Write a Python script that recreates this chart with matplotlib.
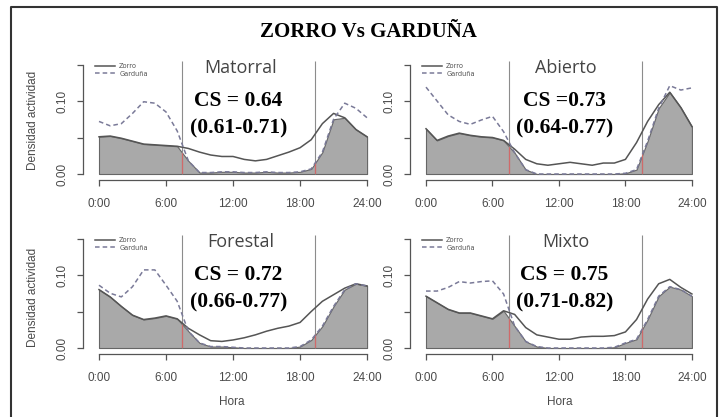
import matplotlib.pyplot as plt
import numpy as np

# datos (densidad de actividad por hora)
hours = list(range(25))
hour_ticks = [0, 6, 12, 18, 24]
hour_labels = ['0:00', '6:00', '12:00', '18:00', '24:00']

zorro_mat = [0.051, 0.052, 0.049, 0.045, 0.041, 0.040, 0.039, 0.038, 0.035, 0.030, 0.026, 0.024, 0.024,
             0.020, 0.018, 0.020, 0.025, 0.030, 0.036, 0.047, 0.069, 0.083, 0.077, 0.061, 0.051]
gard_mat = [0.072, 0.066, 0.069, 0.083, 0.099, 0.097, 0.085, 0.059, 0.018, 0.002, 0.002, 0.003, 0.003,
            0.002, 0.002, 0.003, 0.002, 0.002, 0.003, 0.007, 0.030, 0.075, 0.097, 0.090, 0.077]

zorro_abi = [0.062, 0.046, 0.052, 0.056, 0.053, 0.051, 0.050, 0.046, 0.034, 0.020, 0.014, 0.012, 0.014,
             0.016, 0.014, 0.012, 0.015, 0.015, 0.020, 0.043, 0.072, 0.095, 0.112, 0.091, 0.065]
gard_abi = [0.119, 0.100, 0.081, 0.072, 0.068, 0.074, 0.079, 0.058, 0.029, 0.006, 0.0, 0.0, 0.0,
            0.0, 0.0, 0.0, 0.0, 0.0, 0.001, 0.006, 0.045, 0.090, 0.121, 0.115, 0.118]

zorro_for = [0.080, 0.070, 0.057, 0.045, 0.039, 0.041, 0.044, 0.040, 0.027, 0.018, 0.010, 0.009, 0.011,
             0.014, 0.018, 0.023, 0.027, 0.030, 0.035, 0.050, 0.064, 0.073, 0.082, 0.088, 0.085]
gard_for = [0.086, 0.075, 0.070, 0.084, 0.107, 0.107, 0.086, 0.064, 0.023, 0.007, 0.002, 0.002, 0.001,
            0.0, 0.0, 0.0, 0.0, 0.0, 0.002, 0.011, 0.030, 0.057, 0.080, 0.088, 0.085]

zorro_mix = [0.071, 0.062, 0.053, 0.048, 0.048, 0.044, 0.040, 0.051, 0.046, 0.028, 0.018, 0.015, 0.012,
             0.012, 0.015, 0.016, 0.016, 0.017, 0.022, 0.039, 0.067, 0.088, 0.094, 0.083, 0.074]
gard_mix = [0.078, 0.078, 0.083, 0.091, 0.089, 0.091, 0.092, 0.074, 0.030, 0.009, 0.002, 0.0, 0.0,
            0.0, 0.0, 0.0, 0.0, 0.001, 0.007, 0.012, 0.039, 0.071, 0.084, 0.080, 0.071]

habitats = ['Matorral', 'Abierto', 'Forestal', 'Mixto']
cs_text = ['CS = 0.64', 'CS =0.73', 'CS = 0.72', 'CS = 0.75']
ci_text = ['(0.61-0.71)', '(0.64-0.77)', '(0.66-0.77)', '(0.71-0.82)']
zorro = [zorro_mat, zorro_abi, zorro_for, zorro_mix]
garduna = [gard_mat, gard_abi, gard_for, gard_mix]
amanecer = [7.45, 7.5, 7.45, 7.5]
atardecer = [19.3, 19.45, 19.3, 19.5]

W, H = 723, 417
fig = plt.figure(figsize=(W / 100, H / 100), dpi=100)

def fx(x):
    return x / W

def fy(y):
    return 1 - y / H

# posiciones en pixeles: (x de 0h, px por hora, y de 0.00)
pos = [(99, 11.17, 174), (426, 11.08, 174), (99, 11.17, 348), (426, 11.08, 348)]
xmin, xmax = -1.4, 24.6
ymin, ymax = -0.008, 0.155
py_unit = 730
gris = '#4a4a4a'

for i in range(4):
    x0, ph, y0 = pos[i]
    left = x0 + xmin * ph
    width = (xmax - xmin) * ph
    bottom = y0 - ymin * py_unit
    height = (ymax - ymin) * py_unit
    ax = fig.add_axes([fx(left), fy(bottom), width / W, height / H])
    z = np.array(zorro[i])
    g = np.array(garduna[i])
    over = np.minimum(z, g)
    poly = ax.fill_between(hours, 0, over, color='#a9a9a9', edgecolor='#666666', linewidth=0.8, zorder=1)
    ax.vlines([amanecer[i], atardecer[i]], 0, ymax, color='#8c8c8c', linewidth=0.8, zorder=2)
    red = ax.vlines([amanecer[i], atardecer[i]], 0, ymax, color='#d06a6a', linewidth=0.9, zorder=2.5)
    red.set_clip_path(poly.get_paths()[0], ax.transData)
    ax.plot(hours, z, color='#555555', linewidth=1.1, label='Zorro', zorder=3)
    ax.plot(hours, g, color='#7a7a98', linewidth=1.1, linestyle=(0, (3, 2)), label='Garduña', zorder=3)
    ax.set_xlim(xmin, xmax)
    ax.set_ylim(ymin, ymax)
    ax.spines['top'].set_visible(False)
    ax.spines['right'].set_visible(False)
    ax.spines['left'].set_bounds(0, 0.15)
    ax.spines['bottom'].set_bounds(0, 24)
    for s in ['left', 'bottom']:
        ax.spines[s].set_color('#555555')
        ax.spines[s].set_linewidth(0.9)
    ax.set_xticks(hour_ticks)
    ax.set_xticklabels(hour_labels, fontsize=8.5, color=gris, family='Liberation Sans')
    ax.set_yticks([0, 0.05, 0.10, 0.15])
    ax.set_yticklabels(['0.00', '', '0.10', ''], fontsize=8.5, color=gris,
                       family='Liberation Sans', rotation=90, va='center')
    ax.tick_params(axis='x', length=4, width=0.9, color='#555555', pad=9)
    ax.tick_params(axis='y', length=4, width=0.9, color='#555555', pad=7)
    ax.patch.set_alpha(0)
    ax.legend(loc='upper left', bbox_to_anchor=(0.02, 1.03), frameon=False, fontsize=4.8,
              handlelength=3.0, labelspacing=0.2, handletextpad=0.6, labelcolor='#555555')

    cx = x0 + 12.3 * ph
    fig.text(fx(cx + 4), fy(y0 - 106), habitats[i], ha='center', va='center', fontsize=13,
             color='#444444', family='Open Sans')
    fig.text(fx(cx + 2), fy(y0 - 73), cs_text[i], ha='center', va='center', fontsize=15.5,
             fontweight='bold', family='Liberation Serif')
    fig.text(fx(cx + 2), fy(y0 - 46), ci_text[i], ha='center', va='center', fontsize=15.5,
             fontweight='bold', family='Liberation Serif')

# etiquetas de ejes
for yl in [120, 297]:
    fig.text(fx(33), fy(yl), 'Densidad actividad', rotation=90, ha='center', va='center',
             fontsize=8.5, color=gris, family='Liberation Sans')
for xl in [232, 560]:
    fig.text(fx(xl), fy(402), 'Hora', ha='center', va='center', fontsize=8.5, color=gris,
             family='Liberation Sans')

# titulo y marco
fig.text(fx(368), fy(32), 'ZORRO Vs GARDUÑA', ha='center', va='center', fontsize=15,
         fontweight='bold', family='Liberation Serif')
fig.add_artist(plt.Line2D([fx(11), fx(11), fx(717), fx(717)], [0, fy(7), fy(7), 0],
                          transform=fig.transFigure, color='#333333', linewidth=1.5))

plt.savefig('out.png', dpi=100)
